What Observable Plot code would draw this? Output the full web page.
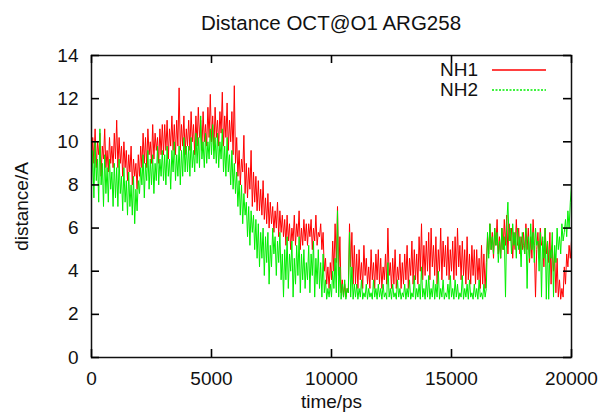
<!DOCTYPE html>
<html>
<head>
<meta charset="utf-8">
<script src="https://cdn.jsdelivr.net/npm/d3@7"></script>
<script src="https://cdn.jsdelivr.net/npm/@observablehq/plot@0.6"></script>
<style>
  body { margin: 0; background: #fff; }
  #wrap { position: relative; width: 602px; height: 417px; font-family: "Liberation Sans", Arial, sans-serif; }
  #title { position: absolute; left: 91px; width: 480px; top: 11px; text-align: center; font-size: 20.5px; color: #111; }
  .leg { position: absolute; font-size: 19px; color: #111; display: flex; align-items: center; }
</style>
</head>
<body>
<div id="wrap">
  <div id="chart"></div>
  <div id="title">Distance OCT@O1 ARG258</div>
  <div class="leg" style="left:440px; top:59px;">NH1<svg width="60" height="10" style="margin-left:13px"><line x1="1" y1="5" x2="55" y2="5" stroke="#ff0000" stroke-width="1.3"/></svg></div>
  <div class="leg" style="left:440px; top:79px;">NH2<svg width="60" height="10" style="margin-left:13px"><line x1="1" y1="5" x2="55" y2="5" stroke="#00ee00" stroke-width="1.3" stroke-dasharray="2,1.5"/></svg></div>
</div>
<script>
// time step of the samples (ps)
const step = 50;
const seriesNames = ["NH1", "NH2"];
const xTicks = [0, 5000, 10000, 15000, 20000];
const yTicks = [0, 2, 4, 6, 8, 10, 12, 14];

const nh1 = [
  8.6,10.2,9.0,10.6,8.8,10.0,9.4,10.4,8.4,9.8,9.2,10.6,8.8,9.6,8.6,10.2,9.0,9.8,8.8,10.4,
  9.2,11.0,8.8,10.2,9.0,9.8,8.4,10.0,8.8,9.6,8.2,9.4,8.6,9.8,8.0,9.2,8.4,9.0,7.8,9.4,
  8.4,9.8,8.8,10.4,9.0,10.2,8.8,10.6,9.4,10.0,9.0,10.8,9.2,10.4,9.6,10.2,9.0,10.6,9.4,10.8,
  9.4,10.8,9.6,11.0,9.2,10.6,9.8,11.2,9.6,10.8,9.4,11.0,9.8,12.5,9.6,10.8,9.8,11.2,9.4,10.6,
  9.8,11.0,9.6,11.4,10.0,10.8,9.4,11.2,9.8,11.6,10.2,11.0,9.6,11.4,10.0,10.8,9.8,11.6,10.2,12.2,
  10.0,11.2,9.6,11.6,10.2,11.0,9.8,11.4,10.4,12.3,9.8,11.2,10.2,11.8,9.6,11.0,10.0,11.4,9.4,12.6,
  9.0,10.2,8.4,9.6,8.0,9.2,8.6,10.3,7.6,9.0,7.4,8.8,7.8,9.6,7.0,8.6,7.2,8.4,6.8,8.2,
  6.8,7.8,6.6,8.2,6.4,7.4,6.2,7.6,6.0,7.2,6.2,7.0,5.8,6.8,6.0,7.2,5.6,6.8,5.8,6.6,
  5.6,6.4,5.2,6.6,5.4,6.2,5.0,6.0,5.4,6.6,5.2,6.2,5.6,6.8,5.0,6.0,5.2,6.4,5.4,6.2,
  5.2,6.2,5.6,6.4,5.0,6.0,5.4,6.6,5.2,5.8,5.6,6.2,5.0,5.8,4.0,4.6,3.4,4.2,3.2,4.4,
  3.6,5.4,4.0,6.2,4.4,7.0,3.8,5.6,3.0,3.6,2.8,3.4,2.8,3.2,3.0,6.2,4.2,5.8,3.4,5.2,
  3.4,4.8,3.2,5.0,3.6,4.4,3.2,5.2,3.8,4.6,3.4,4.2,3.2,5.0,3.6,4.4,3.2,4.8,3.6,5.0,
  3.4,4.6,3.2,4.2,3.6,4.8,3.4,6.0,3.8,4.4,3.2,4.6,3.4,5.0,3.2,4.2,3.6,4.8,3.2,4.4,
  3.4,4.8,3.6,5.2,3.2,4.6,3.8,5.4,3.4,5.0,3.6,4.8,3.4,5.6,4.0,6.2,3.6,5.2,3.8,5.4,
  4.0,5.8,3.6,6.0,4.2,5.2,3.8,5.6,3.4,5.0,4.0,6.0,3.6,5.4,4.2,5.2,3.8,5.6,3.6,5.0,
  4.0,5.4,3.6,5.6,3.8,6.0,4.2,5.2,3.6,5.4,3.8,5.0,3.4,5.6,3.6,4.8,3.4,5.2,3.8,5.0,
  3.4,5.0,3.6,4.6,3.2,5.2,3.4,4.8,3.2,4.4,5.6,4.8,6.2,5.0,5.8,4.6,6.0,5.2,6.4,4.8,
  5.6,4.6,6.0,5.0,6.4,5.2,6.6,4.8,6.2,5.4,6.0,4.6,5.8,5.0,6.4,5.2,6.0,4.8,5.6,5.0,
  5.8,4.8,6.2,5.0,6.0,4.4,5.6,4.6,6.4,5.2,2.8,5.0,5.8,4.6,6.0,5.2,5.4,4.2,6.0,4.8,
  5.4,4.4,5.8,3.4,5.2,4.0,4.8,3.0,4.6,2.8,3.6,2.7,3.2,2.8,4.2,3.4,4.8,4.2,5.2,4.6,
  5.4
];
const nh2 = [
  7.8,9.6,7.4,10.0,8.2,9.2,7.2,10.6,8.0,9.0,7.0,9.4,7.6,8.8,7.2,9.2,7.8,8.6,7.0,9.0,
  7.4,8.8,7.0,9.2,7.6,8.4,6.8,8.8,7.2,8.2,6.6,8.6,7.0,8.0,6.6,8.4,6.2,7.8,6.8,8.2,
  7.6,8.8,8.0,9.4,7.4,9.0,8.2,9.6,7.8,9.2,8.0,9.4,7.6,9.0,8.2,9.8,8.0,9.2,8.4,9.6,
  8.2,9.4,8.0,9.8,8.4,9.2,7.8,9.6,8.6,10.0,8.2,9.4,8.4,9.8,8.0,9.6,8.4,10.2,8.6,9.8,
  8.6,9.8,8.4,10.2,8.8,9.6,8.6,10.4,9.0,10.2,8.8,11.2,9.2,10.0,8.8,10.4,9.0,10.0,9.2,10.6,
  9.4,10.8,9.2,10.2,9.0,10.4,8.8,10.0,9.2,10.6,8.6,9.8,8.4,10.2,8.6,9.4,8.0,9.6,7.8,9.0,
  7.6,8.6,7.0,8.2,6.6,8.0,6.2,7.6,6.6,7.2,5.6,7.0,5.2,6.8,5.8,6.6,5.0,6.4,4.6,6.2,
  4.2,5.8,4.6,6.0,3.8,5.6,4.4,5.8,3.4,5.2,4.2,6.0,4.8,5.6,3.8,5.4,4.4,5.8,3.6,4.8,
  2.8,5.0,3.6,5.6,3.2,4.8,4.0,5.4,2.8,4.6,3.4,5.2,3.8,5.6,3.0,4.8,3.6,5.0,3.2,4.4,
  3.6,5.2,3.0,4.8,3.8,5.4,2.8,4.6,3.4,5.0,3.2,4.4,2.8,4.8,3.0,3.6,2.7,3.2,2.8,3.4,
  2.8,4.0,3.2,4.6,3.0,6.8,2.8,4.2,2.7,3.4,2.8,3.6,2.7,3.2,3.0,5.8,2.8,4.2,2.7,3.4,
  2.8,3.4,2.7,3.2,2.8,3.6,2.7,3.0,2.8,3.4,2.7,3.2,2.8,3.0,2.7,3.6,2.8,3.2,2.7,3.4,
  2.8,3.2,2.7,3.4,2.8,3.0,2.7,4.4,2.8,3.2,2.7,3.4,2.8,3.0,2.7,3.6,2.8,3.2,2.7,3.0,
  2.8,3.4,2.7,3.2,2.8,3.6,2.7,3.0,2.8,3.8,2.7,3.2,2.8,3.4,2.7,4.2,2.8,3.2,2.7,3.6,
  2.8,3.8,2.7,3.2,2.8,3.6,2.7,3.4,2.8,4.0,2.7,3.2,2.8,3.6,2.7,3.0,2.8,3.4,2.7,3.8,
  2.8,3.2,2.7,3.6,2.8,3.4,2.7,3.0,2.8,3.8,2.7,3.2,2.8,3.4,2.7,3.6,2.8,3.0,2.7,3.4,
  2.8,3.2,2.7,3.6,2.8,3.0,2.7,3.4,2.8,3.2,5.8,4.6,6.2,5.0,5.6,4.8,6.0,5.2,5.8,4.4,
  5.4,4.6,6.0,5.0,5.6,2.8,6.2,7.2,5.4,6.0,4.8,6.2,5.2,5.8,4.6,6.0,5.0,5.6,4.2,5.8,
  5.2,4.8,6.0,3.2,5.6,4.6,6.2,5.0,5.8,4.4,6.0,5.2,5.4,4.0,5.8,2.8,5.6,4.6,6.0,2.7,
  5.4,2.7,5.0,4.6,5.8,2.8,5.2,4.4,6.0,5.0,5.6,4.8,6.2,5.4,5.8,6.4,5.6,6.8,6.0,7.2,
  8.0
];

const rows1 = nh1.map((v, i) => ({t: i * step, d: v}));
const rows2 = nh2.map((v, i) => ({t: i * step, d: v}));

const innerW = 602 - 91 - 31;
const innerH = 417 - 55 - 60;
const tickLen = 8;
const tickStroke = {stroke: "#000", strokeWidth: 1.6};

const plot = Plot.plot({
  width: 602,
  height: 417,
  marginLeft: 91,
  marginRight: 31,
  marginTop: 55,
  marginBottom: 60,
  style: {fontFamily: "'Liberation Sans', Arial, sans-serif", fontSize: "19px", color: "#111", background: "#fff"},
  x: {domain: [0, 20000]},
  y: {domain: [0, 14]},
  marks: [
    Plot.lineY(rows1, {x: "t", y: "d", stroke: "#ff0000", strokeWidth: 1}),
    Plot.lineY(rows2, {x: "t", y: "d", stroke: "#00ee00", strokeWidth: 1}),
    Plot.axisX(xTicks, {anchor: "bottom", tickSize: 0, tickPadding: 14, tickFormat: d => String(d), label: null}),
    Plot.axisY(yTicks, {anchor: "left", tickSize: 0, tickPadding: 13, label: null}),
    Plot.frame({stroke: "#111", strokeWidth: 1.5}),
    // inward ticks on all four sides (gnuplot style)
    Plot.tickX(xTicks, {x: d => d, insetTop: innerH - tickLen, ...tickStroke}),
    Plot.tickX(xTicks, {x: d => d, insetBottom: innerH - tickLen, ...tickStroke}),
    Plot.tickY(yTicks, {y: d => d, insetRight: innerW - tickLen, ...tickStroke}),
    Plot.tickY(yTicks, {y: d => d, insetLeft: innerW - tickLen, ...tickStroke}),
    Plot.text(["time/ps"], {frameAnchor: "bottom", dy: 50, fontSize: 19}),
    Plot.text(["distance/A"], {frameAnchor: "left", textAnchor: "middle", dx: -70, rotate: -90, fontSize: 19})
  ]
});
document.getElementById("chart").appendChild(plot);
</script>
</body>
</html>
